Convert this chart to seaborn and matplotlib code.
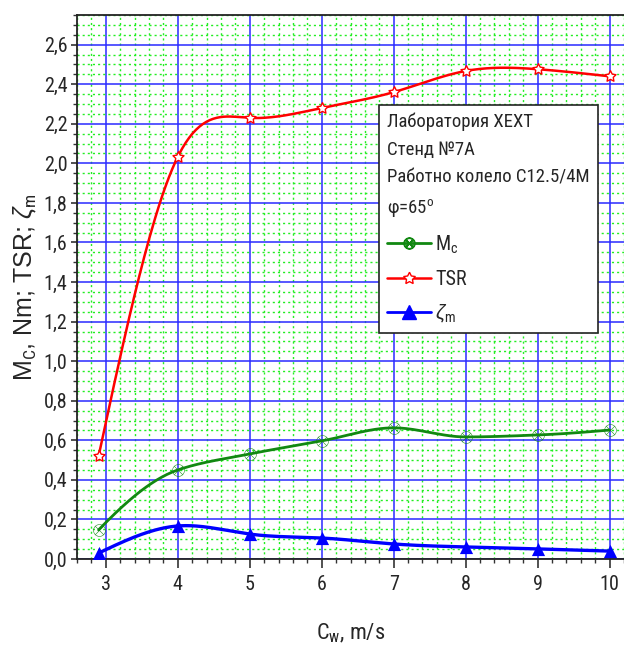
import numpy as np
import pandas as pd
import matplotlib
matplotlib.use("Agg")
import matplotlib.pyplot as plt
from matplotlib.lines import Line2D
from matplotlib.ticker import MultipleLocator, FuncFormatter
from matplotlib import font_manager as fm
from matplotlib.ft2font import FT2Font
import seaborn as sns

# ---- data ----
cw = [2.9, 4, 5, 6, 7, 8, 9, 10]
mc = [0.147, 0.45, 0.531, 0.597, 0.663, 0.617, 0.627, 0.652]
tsr = [0.52, 2.033, 2.23, 2.28, 2.36, 2.467, 2.476, 2.44]
zeta = [0.03, 0.167, 0.126, 0.106, 0.076, 0.061, 0.051, 0.04]
x_ticks = [3, 4, 5, 6, 7, 8, 9, 10]
legend_info = ["Лаборатория XEXT", "Стенд №7А", "Работно колело C12.5/4M", "φ=65"]

sns.set_theme(style="white")

# pick a narrow (Arial Narrow-like) font that covers all needed glyphs
need = set("".join(legend_info) + "0123456789,./m/sTSRCNw;")
avail = {f.name for f in fm.fontManager.ttflist}
narrow = "Liberation Sans"
for cand in ["Liberation Sans Narrow", "Arial Narrow", "Roboto Condensed", "PT Sans Narrow",
             "Open Sans Condensed", "IBM Plex Sans Condensed", "Fira Sans Condensed",
             "Noto Sans Condensed", "Archivo Narrow", "Sofia Sans Condensed"]:
    if cand in avail:
        try:
            path = fm.findfont(fm.FontProperties(family=cand), fallback_to_default=False)
            cmap = FT2Font(path).get_charmap()
            if all(ord(c) in cmap for c in need if c != " "):
                narrow = cand
                break
        except Exception:
            pass

plt.rcParams['font.family'] = [narrow, 'Liberation Sans', 'DejaVu Sans']
plt.rcParams['mathtext.fontset'] = 'custom'
plt.rcParams['mathtext.rm'] = narrow
plt.rcParams['mathtext.it'] = 'Liberation Sans:italic'


def natural_spline(x, y, n=300):
    x = np.asarray(x, float); y = np.asarray(y, float)
    k = len(x)
    h = np.diff(x)
    A = np.zeros((k, k)); b = np.zeros(k)
    A[0, 0] = 1; A[-1, -1] = 1
    for i in range(1, k - 1):
        A[i, i - 1] = h[i - 1]
        A[i, i] = 2 * (h[i - 1] + h[i])
        A[i, i + 1] = h[i]
        b[i] = 6 * ((y[i + 1] - y[i]) / h[i] - (y[i] - y[i - 1]) / h[i - 1])
    M = np.linalg.solve(A, b)
    xs = np.linspace(x[0], x[-1], n)
    idx = np.clip(np.searchsorted(x, xs) - 1, 0, k - 2)
    x0 = x[idx]; x1 = x[idx + 1]; hh = x1 - x0
    t0 = x1 - xs; t1 = xs - x0
    ys = (M[idx] * t0 ** 3 / (6 * hh) + M[idx + 1] * t1 ** 3 / (6 * hh)
          + (y[idx] / hh - M[idx] * hh / 6) * t0 + (y[idx + 1] / hh - M[idx + 1] * hh / 6) * t1)
    return xs, ys


def pchip(x, y, n=300):
    x = np.asarray(x, float); y = np.asarray(y, float)
    h = np.diff(x); m = np.diff(y) / h
    d = np.zeros_like(y)
    for i in range(1, len(x) - 1):
        if m[i - 1] * m[i] > 0:
            w1 = 2 * h[i] + h[i - 1]; w2 = h[i] + 2 * h[i - 1]
            d[i] = (w1 + w2) / (w1 / m[i - 1] + w2 / m[i])
    d[0] = ((2 * h[0] + h[1]) * m[0] - h[0] * m[1]) / (h[0] + h[1])
    if d[0] * m[0] <= 0:
        d[0] = 0
    d[-1] = ((2 * h[-1] + h[-2]) * m[-1] - h[-1] * m[-2]) / (h[-1] + h[-2])
    if d[-1] * m[-1] <= 0:
        d[-1] = 0
    xs = np.linspace(x[0], x[-1], n)
    idx = np.clip(np.searchsorted(x, xs) - 1, 0, len(x) - 2)
    t = (xs - x[idx]) / h[idx]
    h00 = 2 * t ** 3 - 3 * t ** 2 + 1; h10 = t ** 3 - 2 * t ** 2 + t
    h01 = -2 * t ** 3 + 3 * t ** 2; h11 = t ** 3 - t ** 2
    ys = h00 * y[idx] + h10 * h[idx] * d[idx] + h01 * y[idx + 1] + h11 * h[idx] * d[idx + 1]
    return xs, ys


df = pd.DataFrame({"cw": cw, "mc": mc, "tsr": tsr, "zeta": zeta})

fig = plt.figure(figsize=(6.24, 6.48), dpi=100)
ax = fig.add_axes([77 / 624, 89 / 648, 1 - 77 / 624, 544 / 648])

series = [
    ("mc", "#118811", dict(marker=r'$\otimes$', s=80, color="#118811", linewidth=0), 2.0, pchip),
    ("tsr", "#ff0000", dict(marker=(5, 1, 0), s=70, facecolor="white", edgecolor="#ff0000", linewidth=1.0), 1.8, natural_spline),
    ("zeta", "#0000ff", dict(marker="^", s=90, color="#0000ff", linewidth=0), 2.4, natural_spline),
]
for col, color, mk, lw, interp in series:
    xs, ys = interp(df["cw"], df[col])
    sns.lineplot(x=xs, y=ys, ax=ax, color=color, linewidth=lw, legend=False, zorder=3)
    sns.scatterplot(data=df, x="cw", y=col, ax=ax, legend=False, zorder=4, **mk)

ax.set_xlim(2.6, 10.2)
ax.set_ylim(0, 2.75)
ax.set_xticks(x_ticks)
ax.xaxis.set_minor_locator(MultipleLocator(0.2))
ax.yaxis.set_major_locator(MultipleLocator(0.2))
ax.yaxis.set_minor_locator(MultipleLocator(0.05))
ax.yaxis.set_major_formatter(FuncFormatter(lambda v, p: f"{v:.1f}".replace(".", ",")))
ax.xaxis.set_major_formatter(FuncFormatter(lambda v, p: f"{v:.0f}"))

ax.grid(which="minor", color="#22ee22", linestyle=(0, (1.5, 2.2)), linewidth=1.0)
ax.grid(which="major", color="#2a2aff", linestyle="-", linewidth=1.1)
ax.set_axisbelow(True)

ax.tick_params(axis="both", which="both", color="#333333", bottom=True, left=True, direction="out")
ax.tick_params(axis="x", which="major", length=6.5, width=1.2, labelsize=14.5, pad=5)
ax.tick_params(axis="x", which="minor", length=2.8, width=1.0)
ax.tick_params(axis="y", which="major", length=4, width=1.2, labelsize=14.5, pad=3)
ax.tick_params(axis="y", which="minor", length=3, width=1.0)
for s in ["left", "bottom", "top"]:
    ax.spines[s].set_color("#222222")
    ax.spines[s].set_linewidth(1.3)
ax.spines["right"].set_visible(False)

ax.set_xlabel(r"C$_{\mathrm{w}}$, m/s", fontsize=16, labelpad=20)
ax.set_ylabel(r"M$_{\mathrm{C}}$, Nm; TSR; $\zeta_{\mathrm{m}}$", fontsize=18,
              family=["Liberation Sans", "DejaVu Sans"], labelpad=3)

handles = [
    Line2D([], [], color="#118811", lw=2, marker=r'$\otimes$', markersize=8),
    Line2D([], [], color="#ff0000", lw=1.8, marker=(5, 1, 0), markersize=9,
           markerfacecolor="white", markeredgecolor="#ff0000"),
    Line2D([], [], color="#0000ff", lw=2, marker="^", markersize=10),
]
labels = [r"M$_{\mathrm{c}}$", "TSR", r"$\zeta_{\mathrm{m}}$"]
title = "\n".join(legend_info[:-1] + [legend_info[-1] + r"$^{\mathrm{o}}$"])
leg = ax.legend(handles, labels, title=title, loc="upper left",
                bbox_to_anchor=(0.552, 0.835), frameon=True, fontsize=14.5, title_fontsize=13.5,
                alignment="left", handlelength=2.2, handletextpad=0.2, labelspacing=0.7,
                borderpad=0.4, borderaxespad=0, fancybox=False, framealpha=1)
leg.get_frame().set_edgecolor("#222222")
leg.get_frame().set_linewidth(1.2)
leg.get_title().set_linespacing(1.68)
leg.set_zorder(10)

fig.savefig("out.png", dpi=100)
